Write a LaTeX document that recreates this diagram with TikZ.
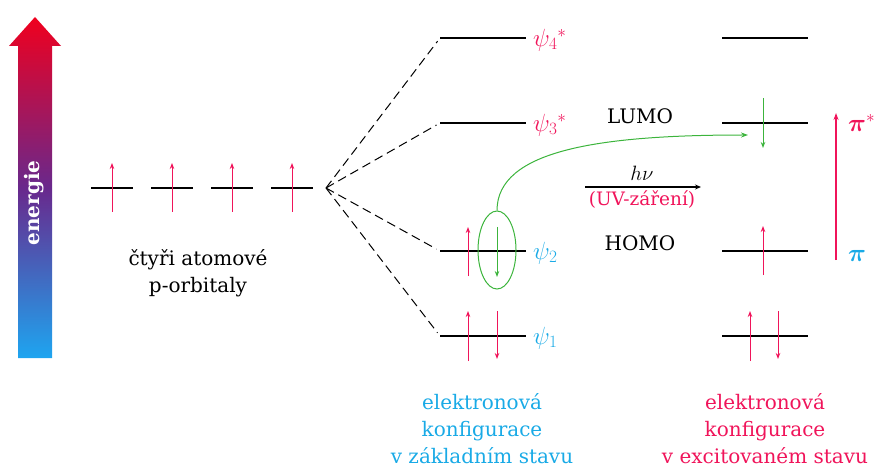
\documentclass[tikz,border=0pt]{standalone}
\usepackage{fontspec}
\setmainfont{DejaVu Serif}
\usepackage{amsmath}
\usetikzlibrary{arrows.meta,shapes.geometric,calc}
\definecolor{pk}{RGB}{240,20,90}
\definecolor{cy}{RGB}{25,170,230}
\definecolor{gr}{RGB}{60,180,60}
\definecolor{ered}{RGB}{240,0,30}
\definecolor{eblue}{RGB}{30,165,240}
\definecolor{epurp}{RGB}{105,40,140}
\begin{document}
\begin{tikzpicture}[x=1pt,y=-1pt,
  lvl/.style={line width=1.2pt,black},
  lvlnode/.style={minimum width=86pt,minimum height=0pt,inner sep=0pt,outer sep=0pt},
  aonode/.style={minimum width=42pt,minimum height=0pt,inner sep=0pt,outer sep=0pt},
  spin/.style={pk,line width=1pt,-{Stealth[length=6pt,width=4.5pt]}},
  gspin/.style={gr,line width=1pt,-{Stealth[length=6pt,width=4.5pt]}},
  dsh/.style={line width=1pt,dash pattern=on 9pt off 5pt,shorten >=4pt},
  txt/.style={font=\fontsize{20}{27}\selectfont,align=center,inner sep=0pt},
  lab/.style={font=\fontsize{24}{26}\selectfont,inner sep=0pt,anchor=west}]
\useasboundingbox (0,0) rectangle (877,470);
% energy arrow
\shade[top color=ered,bottom color=eblue,middle color=epurp]
  (18,358) -- (18,46) -- (9,46) -- (35,17) -- (61,46) -- (52,46) -- (52,358) -- cycle;
\node[rotate=90,white,font=\bfseries\fontsize{20}{22}\selectfont,inner sep=0pt] (en) at (34,203) {energie};
% atomic orbitals
\foreach \i/\x in {1/112,2/172,3/232,4/292}{
  \node[aonode] (a\i) at (\x,188) {};
  \draw[lvl] (a\i.west) -- (a\i.east);
  \draw[spin] ($(a\i)+(0,24)$) -- ($(a\i)+(0,-25)$);
}
\node[txt] (aotxt) at (198,273) {čtyři atomové\\p-orbitaly};
% molecular orbitals (ground state)
\node[lvlnode] (m4) at (483,38) {};
\node[lvlnode] (m3) at (483,123) {};
\node[lvlnode] (m2) at (483,251) {};
\node[lvlnode] (m1) at (483,336) {};
\foreach \m in {m4,m3,m2,m1}{\draw[lvl] (\m.west) -- (\m.east);}
\coordinate (c) at (326,188);
\foreach \m in {m4,m3,m2,m1}{\draw[dsh] (c) -- (\m.west);}
\node[lab,pk] (l4) at (533,40) {$\psi_4{}^{*}$};
\node[lab,pk] (l3) at (533,125) {$\psi_3{}^{*}$};
\node[lab,cy] (l2) at (533,253) {$\psi_2$};
\node[lab,cy] (l1) at (533,338) {$\psi_1$};
% spins ground state
\draw[spin] ($(m2)+(-15,25)$) -- ($(m2)+(-15,-24)$);
\draw[gspin] ($(m2)+(14,-24)$) -- ($(m2)+(14,26)$);
\draw[spin] ($(m1)+(-15,25)$) -- ($(m1)+(-15,-25)$);
\draw[spin] ($(m1)+(14,-25)$) -- ($(m1)+(14,23)$);
\node[ellipse,draw=gr,line width=1pt,minimum width=38pt,minimum height=78pt,inner sep=0pt] (el) at (497,250) {};
% excited state
\node[lvlnode] (r4) at (765,38) {};
\node[lvlnode] (r3) at (765,123) {};
\node[lvlnode] (r2) at (765,251) {};
\node[lvlnode] (r1) at (765,336) {};
\foreach \m in {r4,r3,r2,r1}{\draw[lvl] (\m.west) -- (\m.east);}
\draw[gspin] ($(r3)+(-2,-25)$) -- ($(r3)+(-2,25)$);
\draw[spin] ($(r2)+(-2,24)$) -- ($(r2)+(-2,-25)$);
\draw[spin] ($(r1)+(-15,25)$) -- ($(r1)+(-15,-25)$);
\draw[spin] ($(r1)+(13,-25)$) -- ($(r1)+(13,23)$);
\coordinate (tgt) at (748,135);
\draw[gr,line width=1pt,-{Stealth[length=7pt,width=5pt]}] (el.north) .. controls (497,150) and (600,135) .. (tgt);
% labels
\node[txt] (lumo) at (640,116) {LUMO};
\node[txt] (homo) at (640,243) {HOMO};
\coordinate (h1) at (585,187);
\coordinate (h2) at (701,187);
\draw[line width=1.1pt,-{Stealth[length=6pt,width=5pt]}] (h1) -- (h2);
\node[anchor=south,inner sep=0pt,font=\fontsize{22}{24}\selectfont] (hv) at (642,181) {$h\nu$};
\node[txt,pk,anchor=north,font=\fontsize{18.5}{20}\selectfont] (uv) at (642,191) {(UV-záření)};
\coordinate (pb) at (836,260);
\coordinate (pt) at (836,113);
\draw[pk,line width=1.2pt,-{Stealth[length=7pt,width=5pt]}] (pb) -- (pt);
\node[lab,pk] (pis) at (848,123) {$\boldsymbol{\pi}^{*}$};
\node[lab,cy] (pi) at (848,256) {$\boldsymbol{\pi}$};
\node[txt,cy] (gtxt) at (482,429) {elektronová\\konfigurace\\v základním stavu};
\node[txt,pk] (etxt) at (765,429) {elektronová\\konfigurace\\v excitovaném stavu};
\end{tikzpicture}
\end{document}
